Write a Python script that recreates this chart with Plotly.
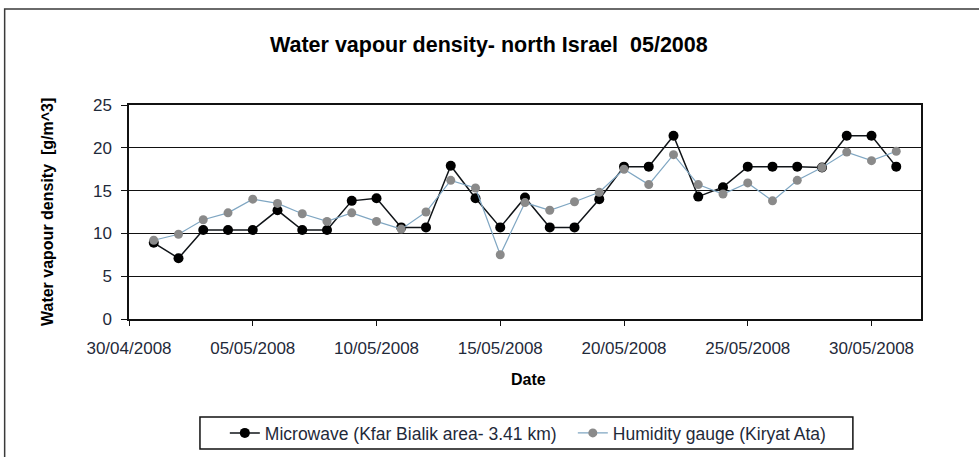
import plotly.graph_objects as go
import pandas as pd

dates = pd.date_range("2008-05-01", "2008-05-31", freq="D")

microwave = [8.9, 7.1, 10.4, 10.4, 10.4, 12.7, 10.4, 10.4, 13.8, 14.1,
             10.7, 10.7, 17.9, 14.1, 10.7, 14.2, 10.7, 10.7, 14.0, 17.8,
             17.8, 21.4, 14.3, 15.4, 17.8, 17.8, 17.8, 17.7, 21.4, 21.4, 17.8]

humidity = [9.2, 9.9, 11.6, 12.4, 14.0, 13.5, 12.3, 11.4, 12.4, 11.4,
            10.5, 12.5, 16.2, 15.3, 7.5, 13.6, 12.7, 13.7, 14.8, 17.5,
            15.7, 19.2, 15.7, 14.6, 15.9, 13.8, 16.2, 17.7, 19.5, 18.5, 19.6]

y_ticks = [0, 5, 10, 15, 20, 25]

font_family = "Liberation Sans, Arial, sans-serif"
text_color = "#1f2a3a"

fig = go.Figure()
fig.add_trace(go.Scatter(
    x=dates, y=microwave, mode="lines+markers",
    name="Microwave (Kfar Bialik area- 3.41 km)",
    line=dict(color="#101418", width=1.5),
    marker=dict(color="#000000", size=10),
))
fig.add_trace(go.Scatter(
    x=dates, y=humidity, mode="lines+markers",
    name="Humidity gauge (Kiryat Ata)",
    line=dict(color="#7fa6c2", width=1.2),
    marker=dict(color="#8a8a8a", size=9),
))

fig.update_layout(
    width=979, height=457,
    margin=dict(l=129, r=58, t=105, b=138),
    paper_bgcolor="white", plot_bgcolor="white",
    font=dict(family=font_family, size=17, color=text_color),
    showlegend=True,
    legend=dict(
        orientation="h", x=0.121, y=0.0525, xanchor="left", yanchor="middle",
        yref="container",
        borderwidth=0, bgcolor="rgba(0,0,0,0)",
        font=dict(size=17.5, color=text_color),
        entrywidth=303, entrywidthmode="pixels",
    ),
    annotations=[
        dict(text="<b>Water vapour density- north Israel  05/2008</b>",
             xref="paper", yref="paper", x=0.455, y=1.28, xanchor="center",
             yanchor="middle", showarrow=False,
             font=dict(size=21.5, color="#000000", family=font_family)),
        dict(text="<b>Water vapour density  [g/m^3]</b>",
             xref="paper", yref="paper", x=-0.1035, y=0.5, xanchor="center",
             yanchor="middle", showarrow=False, textangle=-90,
             font=dict(size=16, color="#000000", family=font_family)),
        dict(text="<b>Date</b>",
             xref="paper", yref="paper", x=0.505, y=-0.285, xanchor="center",
             yanchor="middle", showarrow=False,
             font=dict(size=16, color="#000000", family=font_family)),
    ],
    shapes=[
        dict(type="rect", xref="paper", yref="paper",
             x0=-0.157, x1=1.2, y0=-0.8, y1=1.449,
             line=dict(color="#3a3a3a", width=1.5), layer="below"),
        dict(type="rect", xref="paper", yref="paper",
             x0=0.0896, x1=0.914, y0=-0.607, y1=-0.458,
             line=dict(color="#111111", width=1.5), fillcolor="white",
             layer="below"),
    ],
)

fig.update_xaxes(
    type="date", range=["2008-04-30", "2008-06-01"],
    tick0="2008-04-30", dtick=5 * 86400000, tickformat="%d/%m/%Y",
    ticks="outside", ticklen=5, tickcolor="#111111",
    showline=True, linecolor="#111111", linewidth=1.5, mirror=True,
    showgrid=False, zeroline=False, ticklabelstandoff=8,
    tickfont=dict(size=17, color=text_color),
)
fig.update_yaxes(
    range=[0, 25], tickvals=y_ticks,
    ticks="outside", ticklen=6, tickcolor="#111111",
    showline=True, linecolor="#111111", linewidth=1.5, mirror=True,
    showgrid=True, gridcolor="#111111", gridwidth=1.2, zeroline=False,
    ticklabelstandoff=6,
    tickfont=dict(size=17, color=text_color),
)

fig.write_html("out.html", config={"displayModeBar": False},
               post_script="document.body.style.margin='0';")
